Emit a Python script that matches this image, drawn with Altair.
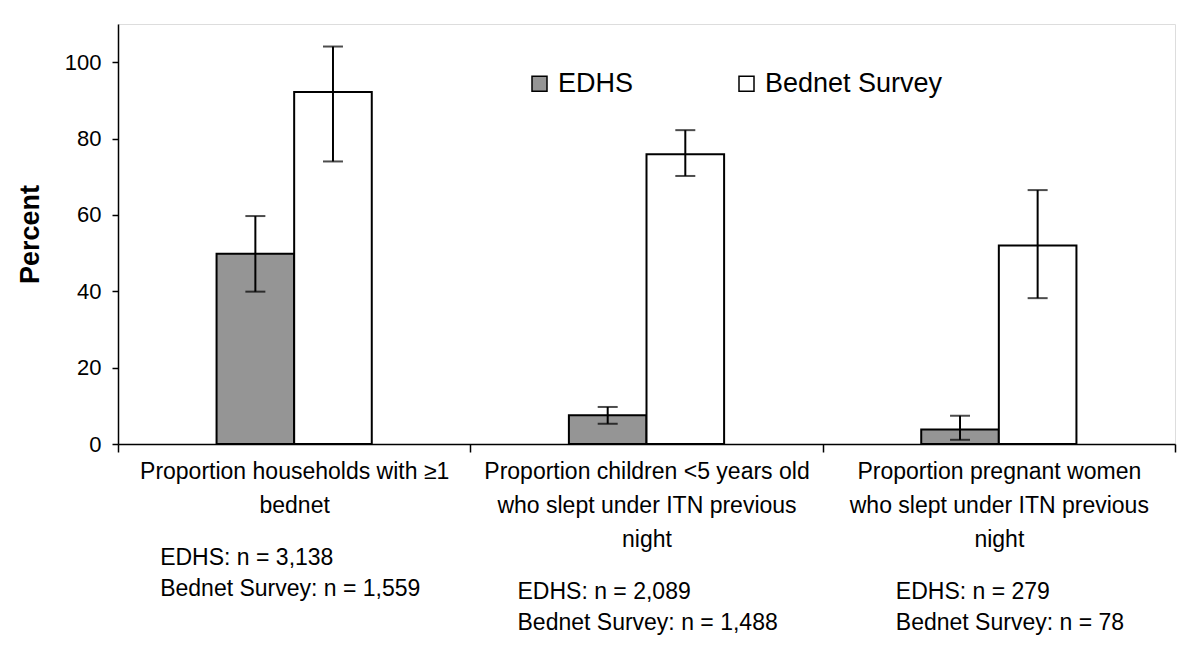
import altair as alt
import pandas as pd

# ---- data ----
categories = ["Proportion households with ≥1|bednet",
              "Proportion children <5 years old|who slept under ITN previous|night",
              "Proportion pregnant women|who slept under ITN previous|night"]
n_text = ["EDHS: n = 3,138\nBednet Survey: n = 1,559",
          "EDHS: n = 2,089\nBednet Survey: n = 1,488",
          "EDHS: n = 279\nBednet Survey: n = 78"]
series = ["EDHS", "Bednet Survey"]
edhs = [49.8, 7.5, 3.8]
edhs_lo = [39.9, 5.3, 1.1]
edhs_hi = [59.7, 9.7, 7.4]
bednet = [92.2, 75.9, 52.0]
bednet_lo = [74.0, 70.2, 38.2]
bednet_hi = [104.1, 82.2, 66.5]
y_ticks = [0, 20, 40, 60, 80, 100]

# layout helpers (not data)
n_dx = [-134, -129, -103]
n_dy = [534, 568, 568]
offset_domain = ["_l"] + series + ["_r"]

rows = []
for i, c in enumerate(categories):
    rows.append({"cat": c, "series": series[0], "value": edhs[i], "lo": edhs_lo[i], "hi": edhs_hi[i]})
    rows.append({"cat": c, "series": series[1], "value": bednet[i], "lo": bednet_lo[i], "hi": bednet_hi[i]})
df = pd.DataFrame(rows)

FONT = "Liberation Sans"

x_enc = alt.X("cat:N", sort=categories,
              scale=alt.Scale(paddingInner=0, paddingOuter=0),
              axis=alt.Axis(title=None, tickBand="extent", tickSize=8, tickColor="black",
                            domainColor="black", domainWidth=1.5, tickWidth=1.5,
                            labelExpr="split(datum.label, '|')", labelAngle=0, labelLimit=0,
                            labelFontSize=23, labelLineHeight=34, labelPadding=8,
                            labelColor="black", labelFont=FONT))
xoff = alt.XOffset("series:N",
                   scale=alt.Scale(domain=offset_domain, paddingInner=0, paddingOuter=0.27))
y_scale = alt.Scale(domain=[0, 110], nice=False)

bars = alt.Chart(df).mark_bar(stroke="black", strokeWidth=2).encode(
    x=x_enc,
    xOffset=xoff,
    y=alt.Y("value:Q", scale=y_scale,
            axis=alt.Axis(values=y_ticks, title="Percent", titleFontSize=27, titleFontWeight="bold",
                          titleFont=FONT, titleColor="black", titlePadding=20,
                          labelFontSize=22, labelFont=FONT, labelColor="black", labelPadding=11,
                          grid=False, tickSize=6, tickColor="black", domainColor="black",
                          domainWidth=1.5, tickWidth=1.5)),
    color=alt.Color("series:N", sort=series,
                    scale=alt.Scale(domain=series, range=["#959595", "#ffffff"]),
                    legend=alt.Legend(title=None, orient="none", direction="horizontal",
                                      legendX=408, legendY=46, padding=0,
                                      symbolType="square", symbolSize=225,
                                      symbolStrokeColor="black", symbolStrokeWidth=1.5,
                                      labelFontSize=27, labelFont=FONT, labelColor="black",
                                      labelLimit=0, labelOffset=5, columnPadding=99)),
)

err = alt.Chart(df).mark_rule(color="black", strokeWidth=2).encode(
    x=alt.X("cat:N", sort=categories), xOffset=xoff,
    y=alt.Y("lo:Q", scale=y_scale), y2="hi:Q")
cap_lo = alt.Chart(df).mark_tick(color="black", thickness=2, size=20).encode(
    x=alt.X("cat:N", sort=categories), xOffset=xoff, y=alt.Y("lo:Q", scale=y_scale))
cap_hi = alt.Chart(df).mark_tick(color="black", thickness=2, size=20).encode(
    x=alt.X("cat:N", sort=categories), xOffset=xoff, y=alt.Y("hi:Q", scale=y_scale))

n_layers = []
for i, c in enumerate(categories):
    d = pd.DataFrame({"cat": [c], "txt": [n_text[i]]})
    n_layers.append(
        alt.Chart(d).mark_text(align="left", baseline="middle", fontSize=23, font=FONT,
                               color="black", lineBreak="\n", lineHeight=31, dx=n_dx[i]).encode(
            x=alt.X("cat:N", sort=categories), y=alt.value(n_dy[i]), text="txt:N"))

chart = alt.layer(bars, err, cap_lo, cap_hi, *n_layers).properties(
    width=1057, height=420,
    autosize=alt.AutoSizeParams(type="none"),
    padding={"left": 110, "top": 16, "right": 17, "bottom": 196},
).configure_view(stroke="black", strokeWidth=1.5).configure(font=FONT, background="white")

chart.save("out.html", embed_options={"renderer": "svg", "actions": False})
